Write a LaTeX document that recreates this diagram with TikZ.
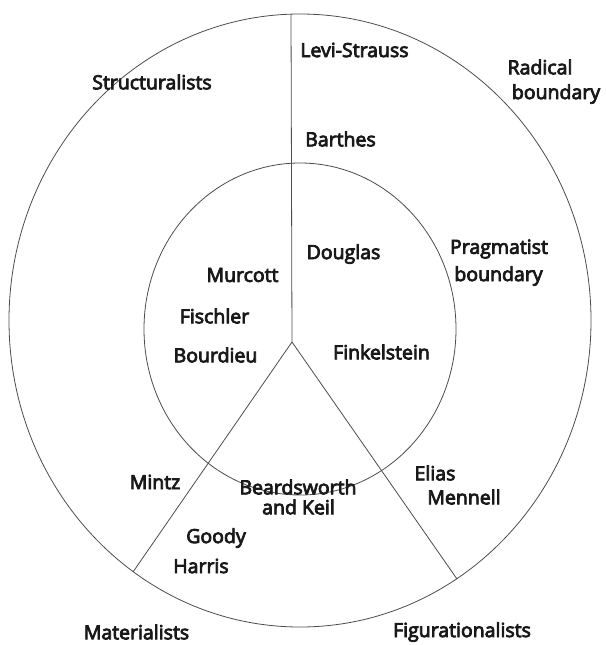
\documentclass[tikz,border=0pt]{standalone}
\usepackage{fontspec}
\newfontfamily\lblfont{Open Sans}[FakeBold=4]
\begin{document}
\begin{tikzpicture}[x=1pt,y=-1pt,
  lbl/.style={inner sep=0pt,font=\lblfont\fontsize{19.5}{22}\selectfont,text=black!90,align=center},
  ring/.style={draw=black!70,line width=0.8pt}]
\useasboundingbox (0,0) rectangle (605,645);
% circles
\draw[ring] (300,320.5) ellipse [x radius=291pt, y radius=306.5pt];
\draw[ring] (300,329) ellipse [x radius=156pt, y radius=166pt];
% dividing lines
\coordinate (top) at (291,14.3);
\coordinate (J) at (292,342);
\coordinate (Lend) at (133,572);
\coordinate (Rend) at (457,579);
\draw[ring] (top) -- (J);
\draw[ring] (J) -- (Lend);
\draw[ring] (J) -- (Rend);
% labels
\node[lbl] (levi) at (354.5,50) {Levi-Strauss};
\node[lbl] (struct) at (152,82) {Structuralists};
\node[lbl] (radical) at (540,67) {Radical};
\node[lbl] (radb) at (556,94) {boundary};
\node[lbl] (barthes) at (340.5,139) {Barthes};
\node[lbl] (douglas) at (343.5,254) {Douglas};
\node[lbl] (prag) at (499,249) {Pragmatist};
\node[lbl] (pragb) at (498.5,276) {boundary};
\node[lbl] (murcott) at (242.5,275) {Murcott};
\node[lbl] (fischler) at (214.5,316) {Fischler};
\node[lbl] (bourdieu) at (215.5,355) {Bourdieu};
\node[lbl] (finkel) at (381.5,352) {Finkelstein};
\node[lbl] (mintz) at (155,482) {Mintz};
\node[lbl] (beard) at (298,487) {Beardsworth};
\node[lbl] (keil) at (298.5,507) {and Keil};
\node[lbl] (elias) at (435,473) {Elias};
\node[lbl] (mennell) at (464,497) {Mennell};
\node[lbl] (goody) at (216,538) {Goody};
\node[lbl] (harris) at (201,566) {Harris};
\node[lbl] (mater) at (136.5,632) {Materialists};
\node[lbl] (figur) at (462,632) {Figurationalists};
\end{tikzpicture}
\end{document}
